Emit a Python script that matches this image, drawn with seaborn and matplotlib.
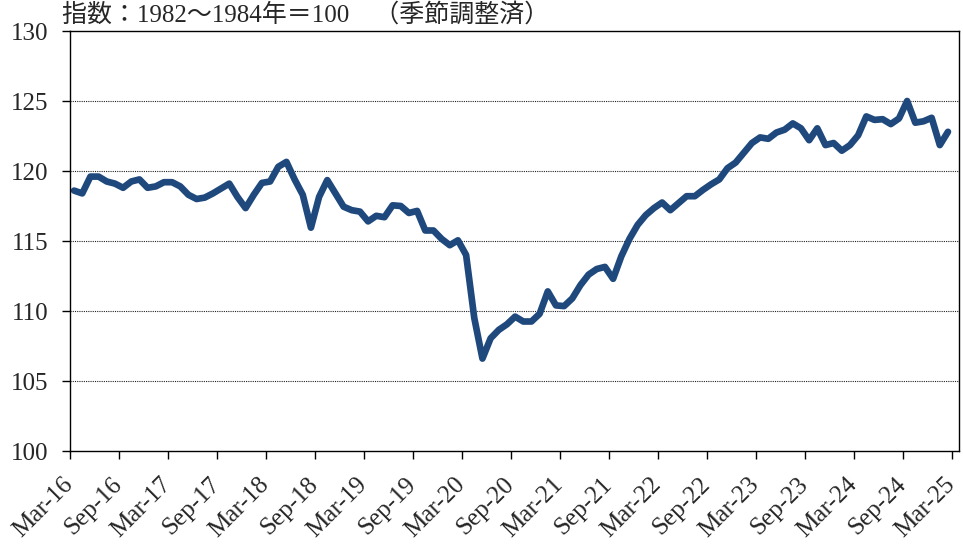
"""Seasonally adjusted index, Mar-16 to Feb-25 (1982-84 = 100)."""

import matplotlib

matplotlib.use("Agg")
import matplotlib.pyplot as plt
import pandas as pd
import seaborn as sns


INDEX_VALUES = [
    118.6, 118.4, 119.6, 119.6, 119.25, 119.1, 118.8, 119.25, 119.4, 118.8,
    118.9, 119.2, 119.2, 118.9, 118.3, 118.0, 118.1, 118.4, 118.75, 119.1,
    118.15, 117.35, 118.3, 119.15, 119.25, 120.3, 120.65, 119.4, 118.3, 115.95,
    118.15, 119.35, 118.4, 117.45, 117.2, 117.1, 116.4, 116.8, 116.7, 117.55,
    117.5, 117.0, 117.15, 115.75, 115.75, 115.15, 114.7, 115.05, 114.0, 109.5,
    106.6, 108.05, 108.65, 109.05, 109.6, 109.25, 109.25, 109.8, 111.4, 110.4,
    110.35, 110.9, 111.85, 112.6, 113.0, 113.15, 112.3, 113.9, 115.15, 116.15,
    116.85, 117.35, 117.75, 117.2, 117.7, 118.2, 118.2, 118.65, 119.05, 119.4,
    120.2, 120.6, 121.3, 122.0, 122.4, 122.3, 122.75, 122.95, 123.4, 123.05,
    122.2, 123.05, 121.85, 122.0, 121.45, 121.85, 122.55, 123.9, 123.65, 123.7,
    123.35, 123.75, 125.0, 123.45, 123.55, 123.8, 121.85, 122.8,
]
TICK_LABELS = [
    "Mar-16", "Sep-16", "Mar-17", "Sep-17", "Mar-18", "Sep-18", "Mar-19",
    "Sep-19", "Mar-20", "Sep-20", "Mar-21", "Sep-21", "Mar-22", "Sep-22",
    "Mar-23", "Sep-23", "Mar-24", "Sep-24", "Mar-25",
]
Y_TICKS = [100, 105, 110, 115, 120, 125, 130]
HEADER = "指数：1982～1984年＝100　（季節調整済）"

LINE_COLOR = "#1f497d"
FONTS = ["Liberation Serif", "Noto Sans CJK JP", "DejaVu Sans"]

sns.set_theme(style="white")
plt.rcParams["font.family"] = FONTS

frame = pd.DataFrame(
    {
        # monthly points sit mid-month between the month ticks
        "month": [i + 0.5 for i in range(len(INDEX_VALUES))],
        "index": INDEX_VALUES,
    }
)

figure = plt.figure(figsize=(9.63, 5.44), dpi=100)
axis = figure.add_axes([70 / 963, 1 - 451 / 544, 889 / 963, 420 / 544])

sns.lineplot(
    data=frame,
    x="month",
    y="index",
    color=LINE_COLOR,
    linewidth=4.8,
    solid_capstyle="round",
    solid_joinstyle="round",
    ax=axis,
)

axis.set_xlim(0, 108.85)
axis.set_ylim(Y_TICKS[0], Y_TICKS[-1])
axis.set_yticks(Y_TICKS)
axis.set_yticklabels([str(v) for v in Y_TICKS], fontsize=18)
axis.set_xticks([6 * i for i in range(len(TICK_LABELS))])
axis.set_xticklabels(
    TICK_LABELS,
    fontsize=18,
    rotation=45,
    ha="right",
    va="center",
    rotation_mode="anchor",
)
axis.set_xlabel("")
axis.set_ylabel("")

for level in Y_TICKS[1:-1]:
    axis.axhline(level, color="#222222", linewidth=0.8, linestyle=(0, (1, 1)), zorder=0)

for spine in axis.spines.values():
    spine.set_color("black")
    spine.set_linewidth(1.0)
axis.tick_params(axis="both", direction="out", length=5.5, width=1, color="black",
                 bottom=True, left=True)
axis.tick_params(axis="x", pad=16)
axis.tick_params(axis="y", pad=10)

figure.text(62 / 963, 1 - 3 / 544, HEADER, fontsize=18, va="top", ha="left")

figure.savefig("out.png", dpi=100)
plt.close(figure)
